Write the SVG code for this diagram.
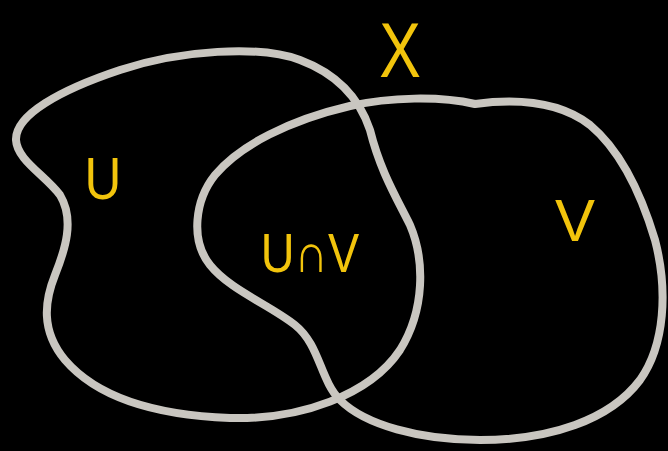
<svg xmlns="http://www.w3.org/2000/svg" width="668" height="451" viewBox="0 0 668 451">
<style>
.set{fill:none;stroke:#c9c6c0;stroke-width:8;stroke-linecap:round;stroke-linejoin:round}
.lbl{fill:#f2c40c;font-family:"Liberation Sans",Arial,sans-serif;text-anchor:middle}
</style>
<rect width="668" height="451" fill="#000"/>
<g id="connectors"></g>
<g id="setU">
<path class="set" d="M 300 60 C 260 45, 180 50, 120 70 C 60 90, 15 115, 16 140 C 17 160, 45 175, 60 195 C 75 220, 65 250, 55 275 C 45 300, 40 330, 65 360 C 95 395, 150 415, 230 418 C 300 420, 370 395, 400 350 C 425 310, 425 260, 410 225 C 395 195, 380 170, 370 130 C 360 100, 340 75, 300 60 Z"/>
<text class="lbl" x="103" y="199" font-size="60" transform="translate(103 0) scale(0.85 1) translate(-103 0)">U</text>
</g>
<g id="setV">
<path class="set" d="M 475 104 C 440 96, 390 97, 350 106 C 290 120, 240 145, 215 175 C 195 200, 190 240, 210 265 C 230 290, 270 305, 295 325 C 320 345, 320 380, 340 400 C 365 425, 420 440, 480 440 C 550 440, 610 420, 640 380 C 665 345, 668 290, 655 240 C 640 190, 620 150, 590 125 C 560 102, 520 98, 475 104 Z"/>
<text class="lbl" x="575" y="241" font-size="60">V</text>
</g>
<g id="intersection">
<text class="lbl" x="310" y="272" font-size="55" transform="translate(310 0) scale(0.85 1) translate(-310 0)">U∩V</text>
</g>
<g id="space">
<text class="lbl" x="400" y="77" font-size="78" transform="translate(400 0) scale(0.8 1) translate(-400 0)">X</text>
</g>
</svg>
